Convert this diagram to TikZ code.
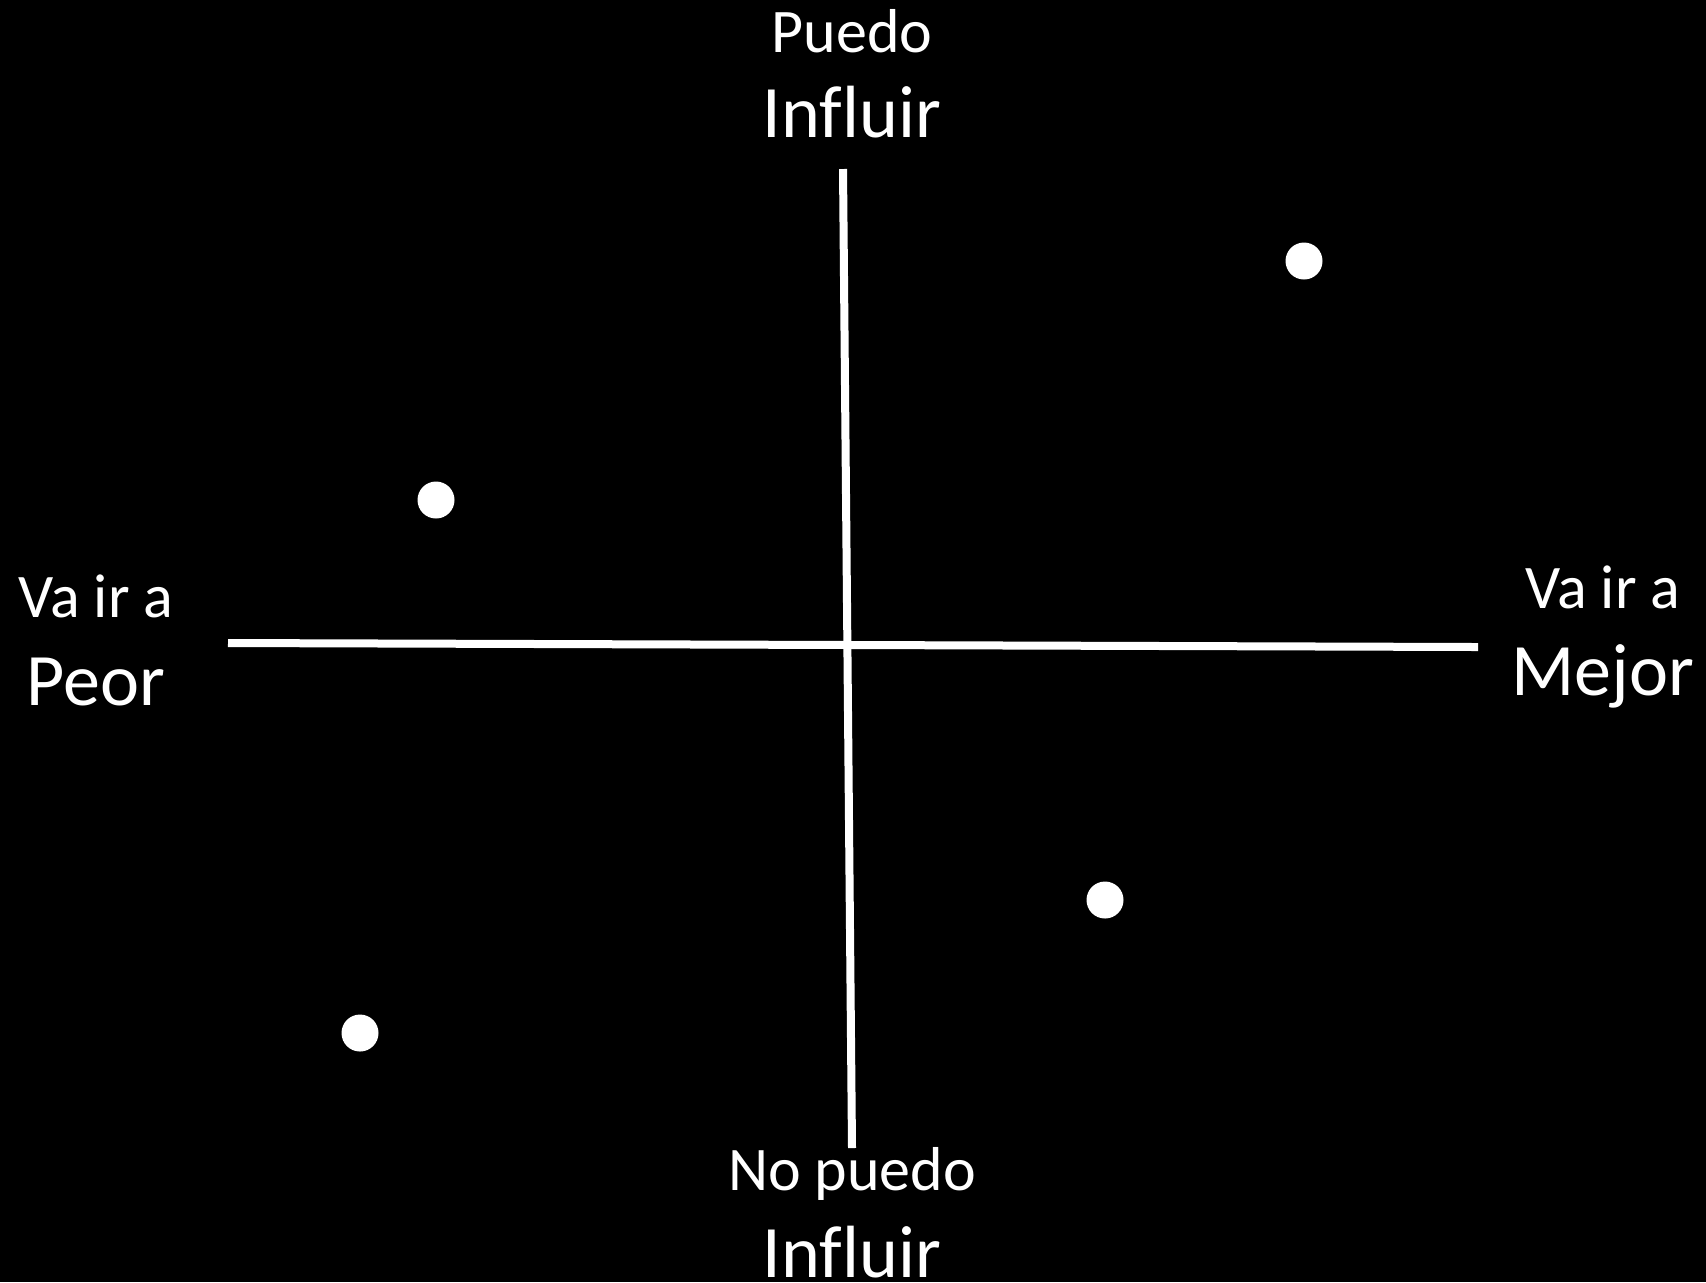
\documentclass[tikz,border=0pt]{standalone}
\usepackage{fontspec}
\setmainfont[Ligatures={NoCommon}]{Carlito}
\begin{document}
\begin{tikzpicture}[x=0.5pt,y=-0.5pt,
  small/.style={text=white,font=\fontsize{31}{36}\selectfont,anchor=base,inner sep=0pt},
  big/.style={text=white,font=\fontsize{37}{42}\selectfont,anchor=base,inner sep=0pt},
  axis/.style={draw=white,line width=4pt},
  dot/.style={circle,fill=white,minimum size=18.5pt,inner sep=0pt}]
\fill[black] (0,0) rectangle (1706,1282);
\useasboundingbox (0,0) rectangle (1706,1282);
\coordinate (top) at (843,169);
\coordinate (bot) at (852,1148);
\coordinate (lft) at (228,643);
\coordinate (rgt) at (1478,647);
\draw[axis] (top) -- (bot);
\draw[axis] (lft) -- (rgt);
\node[dot] (d1) at (1304,261) {};
\node[dot] (d2) at (436,500) {};
\node[dot] (d3) at (1105,900) {};
\node[dot] (d4) at (360,1033) {};
\node[small] (puedo) at (852,52) {Puedo};
\node[big] (inftop) at (852,137) {Influir};
\node[small] (vaL) at (96,617) {Va ir a};
\node[big] (peor) at (96,705) {Peor};
\node[small] (vaR) at (1603,608) {Va ir a};
\node[big] (mejor) at (1603,695) {Mejor};
\node[small] (nopuedo) at (852,1190) {No puedo};
\node[big] (infbot) at (852,1277) {Influir};
\end{tikzpicture}
\end{document}
